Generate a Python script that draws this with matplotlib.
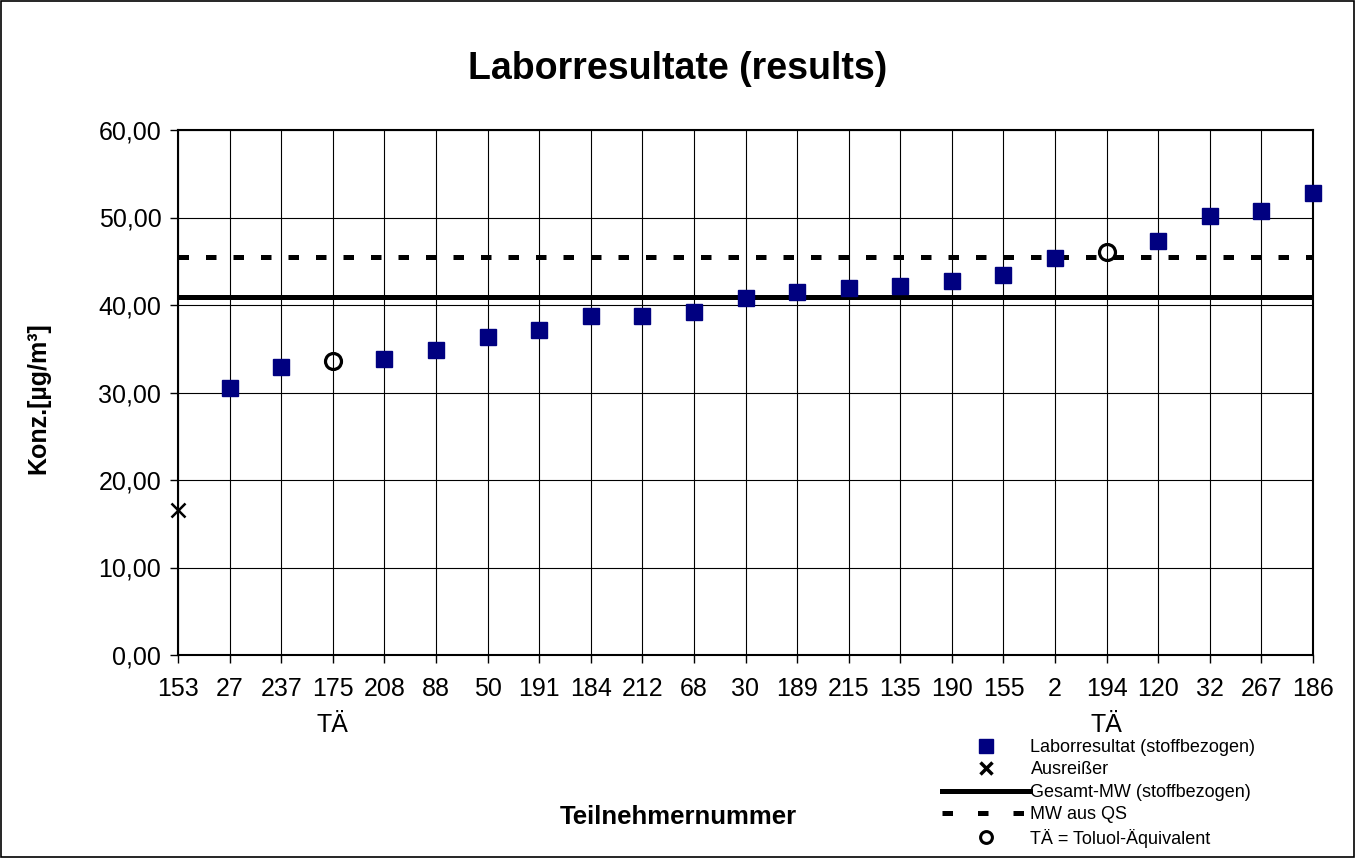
import matplotlib
matplotlib.use("Agg")
import matplotlib.pyplot as plt
from matplotlib.lines import Line2D
from matplotlib.patches import Rectangle
import numpy as np

plt.rcParams['font.family'] = ['Liberation Sans', 'DejaVu Sans']

participants = ["153", "27", "237", "175", "208", "88", "50", "191", "184", "212", "68",
                "30", "189", "215", "135", "190", "155", "2", "194", "120", "32", "267", "186"]
results = [None, 30.55, 32.9, None, 33.8, 34.9, 36.3, 37.1, 38.7, 38.7, 39.2,
           40.8, 41.5, 42.0, 42.2, 42.7, 43.4, 45.4, None, 47.3, 50.2, 50.7, 52.8]
outliers = {"153": 16.6}
toluene_eq = {"175": 33.6, "194": 46.1}
gesamt_mw = 40.9
mw_qs = 45.5
y_ticks = [0, 10, 20, 30, 40, 50, 60]

fig = plt.figure(figsize=(13.55, 8.58), dpi=100)
ax = fig.add_axes([178/1355, 1-655/858, (1313-178)/1355, (655-130)/858])

x = np.arange(len(participants))
xs = [i for i, v in zip(x, results) if v is not None]
ys = [v for v in results if v is not None]

ax.set_xlim(0, len(participants)-1)
ax.set_ylim(0, 60)
ax.set_xticks(x)
ax.set_xticklabels(participants, fontsize=18)
ax.set_yticks(y_ticks)
ax.set_yticklabels([f"{t:.2f}".replace('.', ',') for t in y_ticks], fontsize=18)
ax.grid(True, color='black', linewidth=0.8)
ax.set_axisbelow(True)
ax.tick_params(axis='both', direction='out', length=6, width=1, color='black', pad=6)
ax.tick_params(axis='x', pad=10)
for s in ax.spines.values():
    s.set_linewidth(1.5)

ax.axhline(gesamt_mw, color='black', linewidth=3.6, zorder=3)
ax.axhline(mw_qs, color='black', linewidth=3.6, dashes=(2.1, 3.4), zorder=3)

ax.plot(xs, ys, linestyle='none', marker='s', markersize=11.3, color='#000080',
        markeredgecolor='#000080', zorder=5, clip_on=False)
ox = [participants.index(k) for k in outliers]
ax.plot(ox, list(outliers.values()), linestyle='none', marker='x', markersize=10,
        markeredgewidth=1.8, color='black', zorder=5, clip_on=False)
tx = [participants.index(k) for k in toluene_eq]
ax.plot(tx, list(toluene_eq.values()), linestyle='none', marker='o', markersize=11.5,
        markerfacecolor='none', markeredgecolor='black', markeredgewidth=2.3, zorder=5)

for k in toluene_eq:
    ax.text(participants.index(k), -8.0, "TÄ", ha='center', va='center', fontsize=18)

fig.text(678/1355, 1-69/858, "Laborresultate (results)", ha='center', va='center',
         fontsize=27, fontweight='bold')
fig.text(38/1355, 1-398/858, "Konz.[µg/m³]", ha='center', va='center', rotation=90,
         fontsize=18, fontweight='bold')
fig.text(678/1355, 1-817/858, "Teilnehmernummer", ha='center', va='center',
         fontsize=18.5, fontweight='bold')

handles = [
    Line2D([], [], linestyle='none', marker='s', markersize=10.5, color='#000080'),
    Line2D([], [], linestyle='none', marker='x', markersize=8, markeredgewidth=2.5, color='black'),
    Line2D([], [], color='black', linewidth=3.6),
    Line2D([], [], color='black', linewidth=3.6, dashes=(2.1, 5.0)),
    Line2D([], [], linestyle='none', marker='o', markersize=8.5, markerfacecolor='none',
           markeredgecolor='black', markeredgewidth=2.2),
]
labels = ["Laborresultat (stoffbezogen)", "Ausreißer", "Gesamt-MW (stoffbezogen)",
          "MW aus QS", "TÄ = Toluol-Äquivalent"]
fig.legend(handles, labels, loc='upper left', bbox_to_anchor=(942/1355, 1-739/858),
           frameon=False, fontsize=13, handlelength=4.9, handletextpad=0.0,
           labelspacing=0.3, borderpad=0, borderaxespad=0)

fig.patches.append(Rectangle((1/1355, 1/858), 1-2/1355, 1-2/858, transform=fig.transFigure,
                             fill=False, edgecolor='black', linewidth=1.2))

fig.savefig("out.png", dpi=100)
